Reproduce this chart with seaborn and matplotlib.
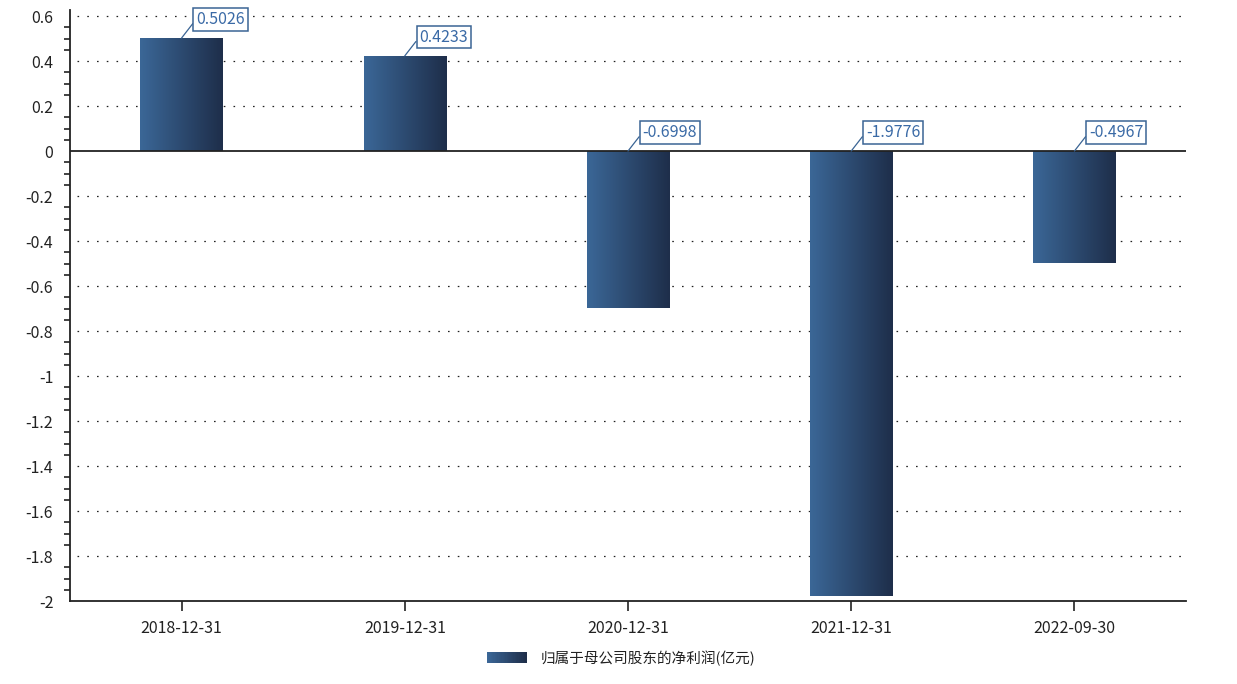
import numpy as np
import matplotlib
matplotlib.use("Agg")
import matplotlib.pyplot as plt
import seaborn as sns
from matplotlib.patches import Rectangle
from matplotlib.legend_handler import HandlerBase
from matplotlib.colors import LinearSegmentedColormap
from matplotlib.ticker import MultipleLocator, FuncFormatter

dates = ["2018-12-31", "2019-12-31", "2020-12-31", "2021-12-31", "2022-09-30"]
values = [0.5026, 0.4233, -0.6998, -1.9776, -0.4967]
labels = ["0.5026", "0.4233", "-0.6998", "-1.9776", "-0.4967"]
series_name = "归属于母公司股东的净利润(亿元)"

sns.set_style("white")
plt.rcParams["font.family"] = ["Noto Sans CJK SC", "DejaVu Sans"]

c_left = "#3b6797"
c_right = "#1e2e4a"
cmap = LinearSegmentedColormap.from_list("g", [c_left, c_right])

fig = plt.figure(figsize=(12.37, 6.84), dpi=100)
L, R, T, B = 70, 1186, 10, 601
ax = fig.add_axes([L / 1237, 1 - B / 684, (R - L) / 1237, (B - T) / 684])

sns.barplot(x=dates, y=values, ax=ax, width=0.37, color=c_left, saturation=1)

grad = np.linspace(0, 1, 256).reshape(1, -1)
for p in list(ax.patches):
    x0, y0 = p.get_x(), p.get_y()
    w, h = p.get_width(), p.get_height()
    im = ax.imshow(grad, cmap=cmap, aspect="auto",
                   extent=[x0, x0 + w, min(y0, y0 + h), max(y0, y0 + h)],
                   zorder=3)
    im.set_clip_path(p)
    p.set_edgecolor("none")

ax.set_xlim(-0.5, 4.5)
ax.set_ylim(-2, 0.627)
ax.yaxis.set_major_locator(MultipleLocator(0.2))
ax.yaxis.set_minor_locator(MultipleLocator(0.05))
ax.yaxis.set_major_formatter(FuncFormatter(
    lambda v, _: "0" if abs(v) < 1e-9 else f"{v:.1f}".rstrip("0").rstrip(".")))

for yv in np.arange(-1.8, 0.61, 0.2):
    if abs(yv) < 1e-9:
        continue
    ax.plot([-0.47, 4.5], [yv, yv], color="#222222", lw=0.9,
            linestyle=(0, (1.3, 6.5)), zorder=1)
ax.axhline(0, color="#222222", lw=1.3, zorder=4)

for s in ["top", "right"]:
    ax.spines[s].set_visible(False)
for s in ["left", "bottom"]:
    ax.spines[s].set_color("#222222")
    ax.spines[s].set_linewidth(1.3)

ax.tick_params(axis="y", which="major", direction="out", length=7, width=1.2,
               color="#222222", labelsize=11.5, labelcolor="#222222", pad=5)
ax.tick_params(axis="y", which="minor", direction="out", length=4, width=1.2,
               color="#222222", left=True)
ax.tick_params(axis="x", which="major", direction="out", length=7, width=1.2,
               color="#222222", labelsize=11.5, labelcolor="#222222", pad=7,
               bottom=True)
ax.set_xlabel("")
ax.set_ylabel("")

for i, (v, t) in enumerate(zip(values, labels)):
    ax.annotate(t, xy=(i, max(v, 0)), xytext=(10.5, 13.5), textcoords="offset points",
                ha="left", va="center", fontsize=11.5, color="#3a6aa6",
                bbox=dict(boxstyle="square,pad=0.18", fc="white", ec="#3a6494", lw=1.1),
                arrowprops=dict(arrowstyle="-", color="#3a6494", lw=0.9,
                                shrinkA=0, shrinkB=0, relpos=(0, 0.5)),
                zorder=6)


class GradHandler(HandlerBase):
    def create_artists(self, legend, orig_handle, xdescent, ydescent, width,
                       height, fontsize, trans):
        n = 30
        arts = []
        for k in range(n):
            r = Rectangle((-xdescent + width * k / n, -ydescent), width / n + 0.3,
                          height, facecolor=cmap(k / (n - 1)), edgecolor="none",
                          transform=trans)
            arts.append(r)
        return arts


handle = Rectangle((0, 0), 1, 1)
fig.legend([handle], [series_name], handler_map={Rectangle: GradHandler()},
           loc="center", bbox_to_anchor=(0.502, 0.038), frameon=False,
           fontsize=10.5, handlelength=2.75, handleheight=0.75,
           handletextpad=0.95, labelcolor="#222222")

fig.savefig("out.png", dpi=100)
